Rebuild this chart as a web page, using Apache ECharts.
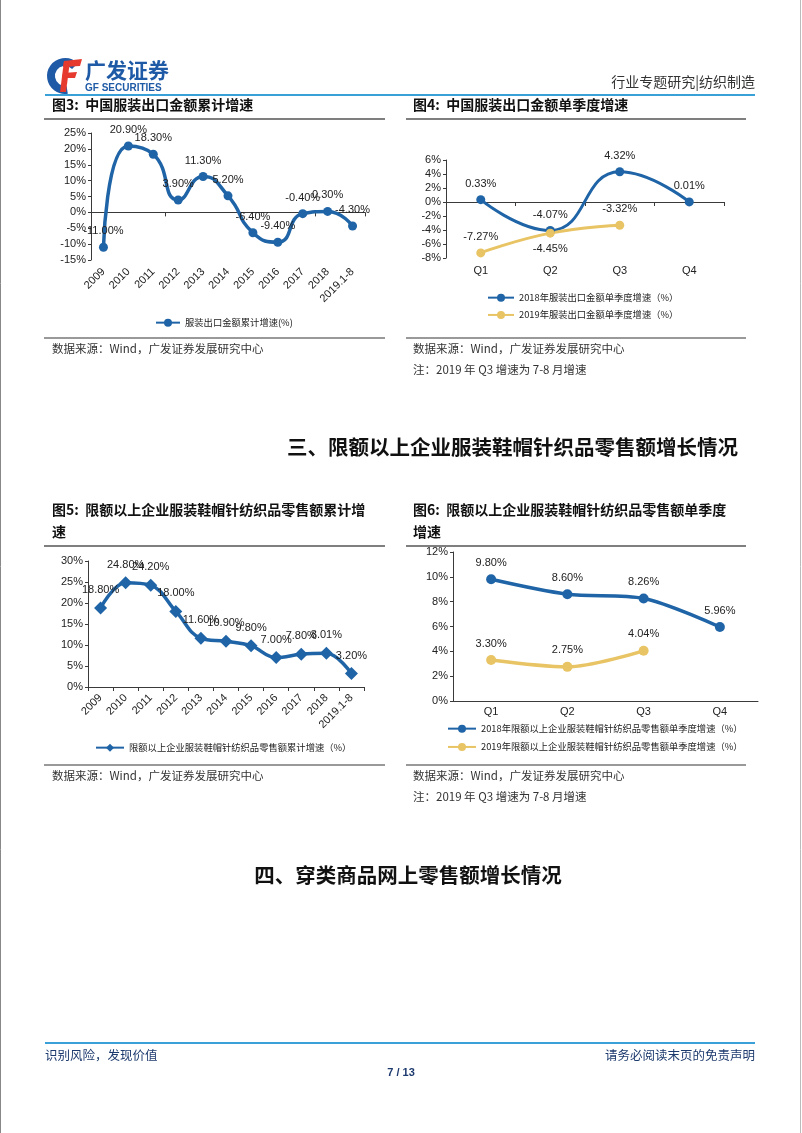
<!DOCTYPE html>
<html>
<head>
<meta charset="utf-8">
<script src="https://cdn.jsdelivr.net/npm/echarts@6/dist/echarts.min.js"></script>
<style>
html,body{margin:0;padding:0;background:#fff;}
#page{width:802px;height:1133px;}
</style>
</head>
<body>
<div id="page"></div>
<script>
// ---------- data ----------
const years = ['2009','2010','2011','2012','2013','2014','2015','2016','2017','2018','2019.1-8'];
const exportCum = [-11.0, 20.9, 18.3, 3.9, 11.3, 5.2, -6.4, -9.4, -0.4, 0.3, -4.3];
const quarters = ['Q1','Q2','Q3','Q4'];
const export2018 = [0.33, -4.07, 4.32, 0.01];
const export2019 = [-7.27, -4.45, -3.32];
const retailCum = [18.8, 24.8, 24.2, 18.0, 11.6, 10.9, 9.8, 7.0, 7.8, 8.01, 3.2];
const retail2018 = [9.8, 8.6, 8.26, 5.96];
const retail2019 = [3.3, 2.75, 4.04];
const yTicks3 = [-15, 25, 5];
const yTicks4 = [-8, 6, 2];
const yTicks5 = [0, 30, 5];
const yTicks6 = [0, 12, 2];

const names = {
  s3: '服装出口金额累计增速(%)',
  s4a: '2018年服装出口金额单季度增速（%）',
  s4b: '2019年服装出口金额单季度增速（%）',
  s5: '限额以上企业服装鞋帽针纺织品零售额累计增速（%）',
  s6a: '2018年限额以上企业服装鞋帽针纺织品零售额单季度增速（%）',
  s6b: '2019年限额以上企业服装鞋帽针纺织品零售额单季度增速（%）'
};

// ---------- styles ----------
const BLUE = '#1f64a6';
const GOLD = '#e8c464';
const AX = '#3a3a3a';
const NUMF = '"Liberation Sans", Arial, sans-serif';
const CJK = '"Noto Sans CJK SC", sans-serif';

const labelCfg = {show: true, position: 'top', distance: 6, fontSize: 11, color: '#222', fontFamily: NUMF,
  formatter: p => Number(p.value).toFixed(2) + '%'};

function zeroAxis(grid, data) {
  return {gridIndex: grid, type: 'category', data: data, position: 'bottom',
    axisLine: {onZero: true, lineStyle: {color: AX, width: 1}},
    axisTick: {show: true, length: 4, lineStyle: {color: AX}},
    axisLabel: {show: false}, splitLine: {show: false}};
}
function labelAxis(grid, data, rotate, margin) {
  return {gridIndex: grid, type: 'category', data: data, position: 'bottom',
    axisLine: {show: false, onZero: false}, axisTick: {show: false},
    axisLabel: {rotate: rotate, interval: 0, fontSize: 11, margin: margin, color: '#222', fontFamily: NUMF},
    splitLine: {show: false}};
}
function valAxis(grid, t) {
  return {gridIndex: grid, type: 'value', min: t[0], max: t[1], interval: t[2],
    axisLine: {show: true, lineStyle: {color: AX}},
    axisTick: {show: true, length: 3, lineStyle: {color: AX}},
    splitLine: {show: false},
    axisLabel: {formatter: '{value}%', fontSize: 11, color: '#222', margin: 5, fontFamily: NUMF}};
}

const legendText = {fontSize: 9.3, color: '#222', fontFamily: CJK};

// ---------- decoration ----------
function txt(x, y, s, font, fill, align) {
  return {type: 'text', x: x, y: y, silent: true,
    style: {text: s, font: font, fill: fill || '#222', textAlign: align || 'left', textVerticalAlign: 'middle', verticalAlign: 'middle'}};
}
function hline(x1, x2, y, color, w) {
  return {type: 'line', silent: true, shape: {x1: x1, y1: y, x2: x2, y2: y}, style: {stroke: color, lineWidth: w}};
}
const TITLE = 'bold 14px "Noto Sans CJK SC", sans-serif';
const SRC = '11.5px "Noto Sans CJK SC", sans-serif';
const HEAD = 'bold 20.5px "Noto Sans CJK SC", sans-serif';

const graphics = [
  {type: 'line', silent: true, shape: {x1: 0.5, y1: 0, x2: 0.5, y2: 1133}, style: {stroke: '#888', lineWidth: 1}},
  {type: 'line', silent: true, shape: {x1: 800.5, y1: 0, x2: 800.5, y2: 1133}, style: {stroke: '#bbb', lineWidth: 1}},
  // logo
  {type: 'arc', silent: true, shape: {cx: 65, cy: 76, r: 14, startAngle: Math.PI * 0.45, endAngle: Math.PI * 1.75, clockwise: true},
    style: {stroke: '#1f5aa6', lineWidth: 8, fill: null}},
  {type: 'polygon', silent: true, shape: {points: [[64, 61], [82, 59], [80, 66], [63, 67]]}, style: {fill: '#e63a2e'}},
  {type: 'polygon', silent: true, shape: {points: [[63, 73], [77, 72], [75, 78], [62, 78]]}, style: {fill: '#e63a2e'}},
  {type: 'polygon', silent: true, shape: {points: [[64, 61], [70, 61], [66, 92], [60, 92]]}, style: {fill: '#e63a2e'}},
  txt(85, 70, '广发证券', 'bold 21px "Noto Sans CJK SC", sans-serif', '#1f5aa6'),
  txt(85, 88, 'GF SECURITIES', 'bold 10px "Liberation Sans", Arial, sans-serif', '#1f5aa6'),
  txt(755, 82, '行业专题研究|纺织制造', '14px "Noto Sans CJK SC", sans-serif', '#333', 'right'),
  hline(45, 755, 95, '#3aa0d8', 2),
  // row 1 titles
  txt(52, 105, '图3:  中国服装出口金额累计增速', TITLE, '#111'),
  txt(413, 105, '图4:  中国服装出口金额单季度增速', TITLE, '#111'),
  hline(44, 385, 119, '#555', 1.5),
  hline(406, 746, 119, '#555', 1.5),
  hline(44, 385, 338, '#777', 1.5),
  hline(406, 746, 338, '#777', 1.5),
  txt(52, 349, '数据来源：Wind，广发证券发展研究中心', SRC, '#333'),
  txt(413, 349, '数据来源：Wind，广发证券发展研究中心', SRC, '#333'),
  txt(413, 370, '注：2019 年 Q3 增速为 7-8 月增速', SRC, '#333'),
  txt(738, 447, '三、限额以上企业服装鞋帽针织品零售额增长情况', HEAD, '#111', 'right'),
  // row 2 titles
  txt(52, 510, '图5:  限额以上企业服装鞋帽针纺织品零售额累计增', TITLE, '#111'),
  txt(52, 532, '速', TITLE, '#111'),
  txt(413, 510, '图6:  限额以上企业服装鞋帽针纺织品零售额单季度', TITLE, '#111'),
  txt(413, 532, '增速', TITLE, '#111'),
  hline(44, 385, 546, '#555', 1.5),
  hline(406, 746, 546, '#555', 1.5),
  hline(44, 385, 765, '#777', 1.5),
  hline(406, 746, 765, '#777', 1.5),
  txt(52, 776, '数据来源：Wind，广发证券发展研究中心', SRC, '#333'),
  txt(413, 776, '数据来源：Wind，广发证券发展研究中心', SRC, '#333'),
  txt(413, 797, '注：2019 年 Q3 增速为 7-8 月增速', SRC, '#333'),
  txt(408, 875, '四、穿类商品网上零售额增长情况', HEAD, '#111', 'center'),
  // footer
  hline(45, 755, 1043, '#3aa0d8', 2),
  txt(45, 1055, '识别风险，发现价值', '12.5px "Noto Sans CJK SC", sans-serif', '#1d3a6e'),
  txt(755, 1055, '请务必阅读末页的免责声明', '12.5px "Noto Sans CJK SC", sans-serif', '#1d3a6e', 'right'),
  txt(401, 1073, '7 / 13', 'bold 11px "Liberation Sans", Arial, sans-serif', '#1d3a6e', 'center')
];

const chart = echarts.init(document.getElementById('page'), null, {renderer: 'canvas', width: 802, height: 1133});

const option = {
  animation: false,
  backgroundColor: '#fff',
  textStyle: {fontFamily: NUMF},
  grid: [
    {left: 91, top: 133, width: 274, height: 127},
    {left: 446, top: 160, width: 278, height: 98},
    {left: 88, top: 561, width: 276, height: 126},
    {left: 453, top: 552, width: 305, height: 149}
  ],
  xAxis: [
    zeroAxis(0, years),
    labelAxis(0, years, 45, 10),
    zeroAxis(1, quarters),
    labelAxis(1, quarters, 0, 7),
    Object.assign(zeroAxis(2, years), {axisLabel: {show: true, rotate: 45, interval: 0, fontSize: 11, margin: 9, color: '#222', fontFamily: NUMF}}),
    Object.assign(zeroAxis(3, quarters), {axisTick: {show: false}, axisLabel: {show: true, interval: 0, fontSize: 11, margin: 5, color: '#222', fontFamily: NUMF}})
  ],
  yAxis: [valAxis(0, yTicks3), valAxis(1, yTicks4), valAxis(2, yTicks5), valAxis(3, yTicks6)],
  legend: [
    {data: [names.s3], left: 150, top: 313, itemWidth: 24, itemHeight: 10, itemGap: 8, textStyle: legendText},
    {data: [names.s4a, names.s4b], orient: 'vertical', left: 482, top: 288, itemWidth: 26, itemHeight: 10, itemGap: 8, textStyle: legendText},
    {data: [names.s5], left: 90, top: 738, itemWidth: 28, itemHeight: 10, itemGap: 8, textStyle: legendText},
    {data: [names.s6a, names.s6b], orient: 'vertical', left: 442, top: 719, itemWidth: 28, itemHeight: 10, itemGap: 9, textStyle: legendText}
  ],
  series: [
    {name: names.s3, type: 'line', xAxisIndex: 0, yAxisIndex: 0, data: exportCum, smooth: 0.55,
      symbol: 'circle', symbolSize: 9, lineStyle: {color: BLUE, width: 3.5}, itemStyle: {color: BLUE}, label: labelCfg},
    {name: names.s4a, type: 'line', xAxisIndex: 2, yAxisIndex: 1, data: export2018, smooth: 0.5,
      symbol: 'circle', symbolSize: 9, lineStyle: {color: BLUE, width: 3}, itemStyle: {color: BLUE}, label: labelCfg},
    {name: names.s4b, type: 'line', xAxisIndex: 2, yAxisIndex: 1,
      data: export2019.map((v, i) => i === 1 ? {value: v, label: {position: 'bottom'}} : v), smooth: 0.5,
      symbol: 'circle', symbolSize: 9, lineStyle: {color: GOLD, width: 3}, itemStyle: {color: GOLD}, label: labelCfg},
    {name: names.s5, type: 'line', xAxisIndex: 4, yAxisIndex: 2, data: retailCum, smooth: 0.4,
      symbol: 'diamond', symbolSize: 13, lineStyle: {color: BLUE, width: 3.5}, itemStyle: {color: BLUE}, label: labelCfg},
    {name: names.s6a, type: 'line', xAxisIndex: 5, yAxisIndex: 3, data: retail2018, smooth: 0.3,
      symbol: 'circle', symbolSize: 10, lineStyle: {color: BLUE, width: 3.5}, itemStyle: {color: BLUE}, label: labelCfg},
    {name: names.s6b, type: 'line', xAxisIndex: 5, yAxisIndex: 3, data: retail2019, smooth: 0.3,
      symbol: 'circle', symbolSize: 10, lineStyle: {color: GOLD, width: 3.5}, itemStyle: {color: GOLD}, label: labelCfg}
  ],
  graphic: {elements: graphics}
};
chart.setOption(option);
</script>
</body>
</html>
